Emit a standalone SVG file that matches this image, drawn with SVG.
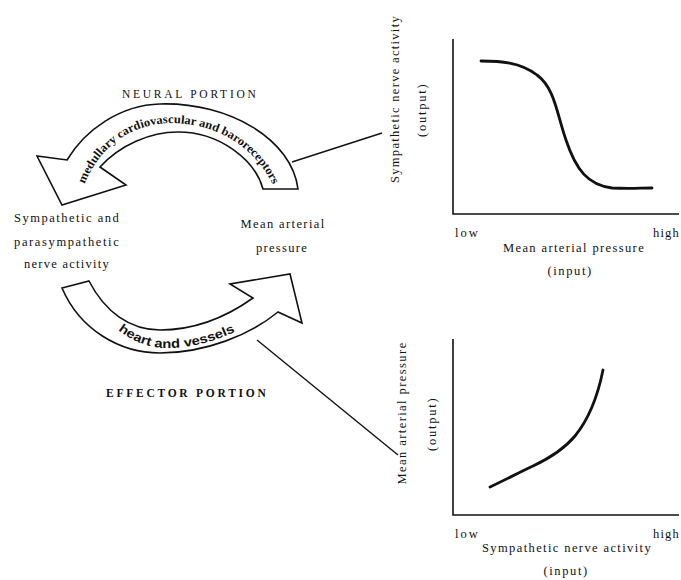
<svg xmlns="http://www.w3.org/2000/svg" width="681" height="580" viewBox="0 0 681 580">
<style>
.t{font-family:"Liberation Serif","DejaVu Serif",serif;font-size:12.5px;fill:#111;letter-spacing:1.3px}
.h{font-family:"Liberation Serif","DejaVu Serif",serif;font-size:11.5px;fill:#111;letter-spacing:2.2px}
.band{fill:#fff;stroke:#111;stroke-width:1.6;stroke-linejoin:miter}
.ax{fill:none;stroke:#111;stroke-width:1.6}
.cv{fill:none;stroke:#111;stroke-width:2.8;stroke-linecap:round}
.ln{stroke:#111;stroke-width:1.4}
.at{font-family:"Liberation Serif","DejaVu Serif",serif;font-weight:bold;font-size:12px;fill:#111}
.as{font-family:"Liberation Sans","DejaVu Sans",sans-serif;font-weight:bold;font-size:12.5px;fill:#111}
</style>
<defs>
<path id="pTop" d="M84,186 C98,148 130,124 170,123 C222,123 260,152 276,192"/>
<path id="pBot" d="M114,327 C134,343 150,348 168,348 C195,348 220,340 248,325"/>
</defs>
<rect width="681" height="580" fill="#fff"/>

<g id="connectors">
<line class="ln" x1="292" y1="162" x2="382" y2="133"/>
<line class="ln" x1="257" y1="340" x2="398" y2="455"/>
</g>

<g id="neural-arrow">
<path class="band" d="M298,189 C292,140 230,102 160,104 C120,105 85,130 67,160 L37,156 L62,205 L126,185 L100,167 C120,145 150,132 178,132 C220,132 255,160 263,189 Z"/>
<text class="at"><textPath href="#pTop" startOffset="2" textLength="238" lengthAdjust="spacingAndGlyphs">medullary cardiovascular and baroreceptors</textPath></text>
</g>

<g id="effector-arrow">
<path class="band" d="M62,288 C80,330 120,353 160,353 C205,353 250,335 278,312 L302,323 L290,274 L230,284 L253,298 C225,318 195,330 160,330 C130,330 105,312 89,281 Z"/>
<text class="as"><textPath href="#pBot" startOffset="5" textLength="124" lengthAdjust="spacingAndGlyphs">heart and vessels</textPath></text>
</g>

<g id="neural-label">
<text class="h" x="190" y="98" text-anchor="middle" textLength="136">NEURAL PORTION</text>
</g>
<g id="effector-label">
<text class="h" x="187" y="397" text-anchor="middle" font-weight="bold" textLength="162">EFFECTOR PORTION</text>
</g>

<g id="nerve-activity">
<text class="t" x="67" y="222" text-anchor="middle" textLength="106">Sympathetic and</text>
<text class="t" x="67" y="246" text-anchor="middle" textLength="106">parasympathetic</text>
<text class="t" x="67" y="268" text-anchor="middle" textLength="86">nerve activity</text>
</g>

<g id="map">
<text class="t" x="283" y="228" text-anchor="middle" textLength="85">Mean arterial</text>
<text class="t" x="282" y="252" text-anchor="middle" textLength="52">pressure</text>
</g>

<g id="graph-neural">
<path class="ax" d="M453,39 L453,214 L679,214"/>
<path class="cv" d="M481,61 C500,61 520,62 537,75 C555,88 557,115 566,140 C576,170 588,185 612,188 C630,189 640,188 652,188"/>
<text class="t" x="455" y="237" textLength="24">low</text>
<text class="t" x="653" y="237" textLength="27">high</text>
<text class="t" x="574" y="252" text-anchor="middle" textLength="142">Mean arterial pressure</text>
<text class="t" x="570" y="275" text-anchor="middle" textLength="45">(input)</text>
<text class="t" transform="translate(399,99) rotate(-90)" text-anchor="middle" textLength="168">Sympathetic nerve activity</text>
<text class="t" transform="translate(426,110) rotate(-90)" text-anchor="middle" textLength="54">(output)</text>
</g>

<g id="graph-effector">
<path class="ax" d="M453,339 L453,515 L679,515"/>
<path class="cv" d="M490,487 C505,480 520,472 533,466 C550,458 565,448 575,436 C588,420 598,395 603,370"/>
<text class="t" x="455" y="538" textLength="24">low</text>
<text class="t" x="653" y="538" textLength="27">high</text>
<text class="t" x="567" y="552" text-anchor="middle" textLength="170">Sympathetic nerve activity</text>
<text class="t" x="566" y="575" text-anchor="middle" textLength="45">(input)</text>
<text class="t" transform="translate(406,413) rotate(-90)" text-anchor="middle" textLength="143">Mean arterial pressure</text>
<text class="t" transform="translate(436,424) rotate(-90)" text-anchor="middle" textLength="54">(output)</text>
</g>
</svg>
